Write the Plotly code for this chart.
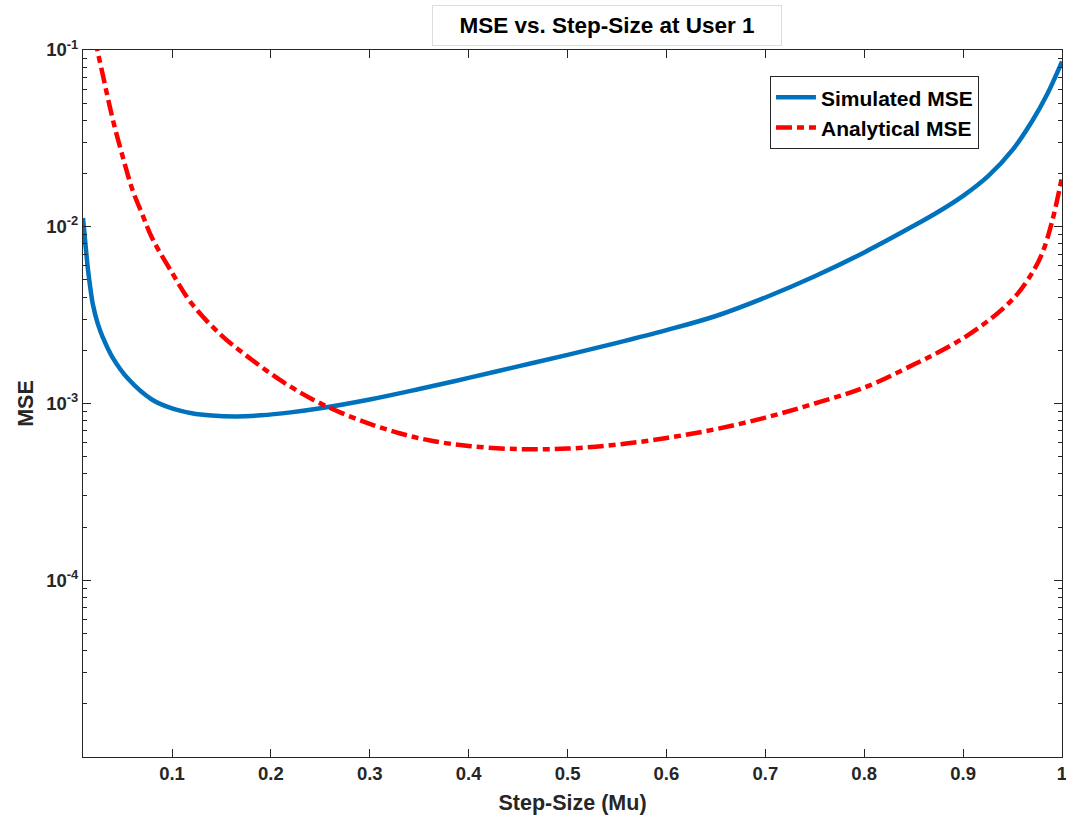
import plotly.graph_objects as go

# Simulated MSE
mu_sim = [0.01, 0.0125, 0.015, 0.0175, 0.02, 0.025, 0.03, 0.0392, 0.0561, 0.08,
          0.10, 0.12, 0.14, 0.165, 0.19, 0.22, 0.25, 0.30, 0.35, 0.40,
          0.45, 0.50, 0.55, 0.60, 0.65, 0.70, 0.75, 0.80, 0.85, 0.875,
          0.90, 0.925, 0.95, 0.97, 0.985, 1.0]
mse_sim = [0.01122, 0.00794, 0.00575, 0.00447, 0.00363, 0.00282, 0.00237, 0.00185, 0.00137, 0.00105,
           0.000938, 0.000881, 0.000855, 0.000845, 0.000857, 0.000891, 0.00094, 0.001054, 0.001208, 0.001396,
           0.001622, 0.001884, 0.002203, 0.0026, 0.003126, 0.00398, 0.00525, 0.00716, 0.01012, 0.01216,
           0.01496, 0.01928, 0.02723, 0.0398, 0.0562, 0.086]

# Analytical MSE
mu_ana = [0.01, 0.02, 0.03, 0.04, 0.05, 0.06, 0.07, 0.08, 0.10, 0.12,
          0.15, 0.18, 0.21, 0.24, 0.27, 0.30, 0.33, 0.36, 0.40, 0.45,
          0.50, 0.55, 0.60, 0.65, 0.70, 0.75, 0.80, 0.85, 0.875, 0.90,
          0.92, 0.94, 0.955, 0.97, 0.98, 0.99, 1.0]
mse_ana = [0.282, 0.132, 0.0724, 0.0407, 0.0251, 0.0162, 0.01175, 0.00861, 0.0055, 0.00367,
           0.00243, 0.00178, 0.00135, 0.00107, 0.000891, 0.000767, 0.000679, 0.000619, 0.000575, 0.000552,
           0.000556, 0.000585, 0.000638, 0.000716, 0.000832, 0.001, 0.00123, 0.00166, 0.00195, 0.00234,
           0.00279, 0.00343, 0.00417, 0.0055, 0.00708, 0.01072, 0.0191]

x_ticks = [0.1, 0.2, 0.3, 0.4, 0.5, 0.6, 0.7, 0.8, 0.9, 0.99999]
x_ticktext = ["0.1", "0.2", "0.3", "0.4", "0.5", "0.6", "0.7", "0.8", "0.9", "1"]
y_ticks = [1e-4, 1e-3, 1e-2, 1e-1]
y_ticktext = ["10<sup>-4</sup>", "10<sup>-3</sup>", "10<sup>-2</sup>", "10<sup>-1</sup>"]

FONT = "Liberation Sans, Arial, sans-serif"
AX = "#262626"

fig = go.Figure()
fig.add_trace(go.Scatter(x=mu_sim, y=mse_sim, mode="lines", name="<b>Simulated MSE</b>",
                         line=dict(color="#0072BD", width=4.5, shape="spline", smoothing=1.0)))
fig.add_trace(go.Scatter(x=mu_ana, y=mse_ana, mode="lines", name="<b>Analytical MSE</b>",
                         line=dict(color="#FF0000", width=4.5, dash="16px,5px,7px,5px",
                                   shape="spline", smoothing=1.0)))

fig.update_layout(
    width=1066, height=821,
    margin=dict(l=83, r=4, t=50, b=64),
    paper_bgcolor="white", plot_bgcolor="white",
    font=dict(family=FONT, color=AX),
    showlegend=True,
    legend=dict(x=0.7017, y=0.963, xanchor="left", yanchor="top",
                bgcolor="white", bordercolor="#262626", borderwidth=1,
                font=dict(family=FONT, size=21, color="black"),
                tracegroupgap=0, itemwidth=40),
    annotations=[dict(
        text="<b>MSE vs. Step-Size at User 1</b>", xref="paper", yref="paper",
        x=0.535, y=1.0347, xanchor="center", yanchor="middle", showarrow=False,
        font=dict(family=FONT, size=22.5, color="black"),
        bgcolor="white", bordercolor="#dddddd", borderwidth=1, borderpad=3,
        width=342, height=33)],
)

fig.update_xaxes(
    range=[0.01, 1.0], tickvals=x_ticks, ticktext=["<b>%s</b>" % t for t in x_ticktext],
    ticks="inside", ticklen=8, tickwidth=1, tickcolor=AX,
    showline=True, linecolor=AX, linewidth=1, mirror="ticks",
    showgrid=False, zeroline=False, ticklabeloverflow="allow", automargin=False,
    tickfont=dict(family=FONT, size=18.5, color=AX),
    title=dict(text="<b>Step-Size (Mu)</b>", font=dict(family=FONT, size=21.5, color=AX), standoff=11),
)
fig.update_yaxes(
    type="log", range=[-5, -1], tickvals=y_ticks, ticktext=["<b>%s</b>" % t for t in y_ticktext],
    ticks="inside", ticklen=8, tickwidth=1, tickcolor=AX,
    showline=True, linecolor=AX, linewidth=1, mirror="ticks",
    showgrid=False, zeroline=False, automargin=False,
    minor=dict(ticks="inside", ticklen=4, tickcolor=AX, dtick="D1", showgrid=False),
    tickfont=dict(family=FONT, size=18.5, color=AX),
    title=dict(text="<b>MSE</b>", font=dict(family=FONT, size=21.5, color=AX), standoff=6),
)

fig.write_html("out.html")
